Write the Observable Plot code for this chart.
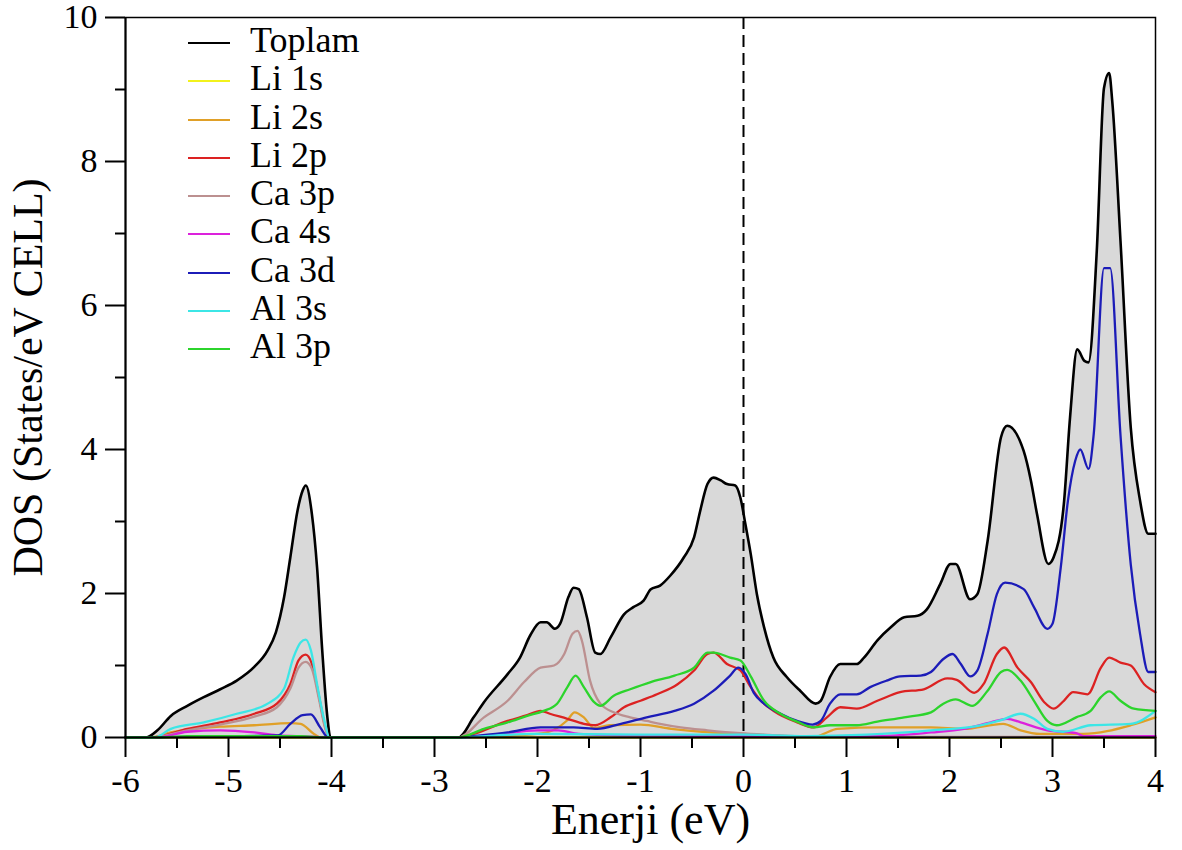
<!DOCTYPE html>
<html>
<head>
<meta charset="utf-8">
<script src="https://cdn.jsdelivr.net/npm/d3@7"></script>
<script src="https://cdn.jsdelivr.net/npm/@observablehq/plot@0.6"></script>
<style>
  body { margin: 0; background: #fff; }
  #chart { position: relative; width: 1182px; height: 850px; }
  #legend { position: absolute; left: 188px; top: 21px; font-family: "Liberation Serif", "DejaVu Serif", serif; font-size: 36px; color: #000; }
  #legend .row { display: flex; align-items: flex-start; height: 38.3px; }
  #legend svg { width: 42px; height: 38.3px; margin-right: 20px; flex: none; }
  #legend span { line-height: 38.3px; white-space: nowrap; }
</style>
</head>
<body>
<div id="chart"><div id="legend"></div></div>
<script>
// Density of states, total and orbital-projected, energy in eV
const toplam = [[-6,0],[-5.80,0],[-5.69,0.10],[-5.56,0.30],[-5.40,0.44],[-5.24,0.56],[-5.08,0.67],[-4.92,0.79],[-4.75,0.98],[-4.62,1.21],[-4.54,1.46],[-4.46,1.95],[-4.40,2.50],[-4.33,3.15],[-4.28,3.43],[-4.25,3.50],[-4.19,3.10],[-4.14,2.36],[-4.09,1.21],[-4.04,0.28],[-4.01,0],
  [-2.77,0],[-2.62,0.28],[-2.52,0.49],[-2.29,0.88],[-2.17,1.11],[-2.07,1.42],[-1.97,1.60],[-1.91,1.60],[-1.83,1.51],[-1.78,1.58],[-1.70,1.95],[-1.65,2.08],[-1.60,2.06],[-1.52,1.67],[-1.44,1.18],[-1.39,1.16],[-1.29,1.39],[-1.16,1.71],[-1.07,1.81],[-0.97,1.90],[-0.90,2.06],[-0.81,2.11],[-0.71,2.25],[-0.58,2.50],[-0.48,2.78],[-0.42,3.15],[-0.35,3.52],[-0.29,3.61],[-0.22,3.57],[-0.16,3.52],[-0.08,3.50],[-0.03,3.33],[0.02,2.95],[0.07,2.55],[0.13,1.99],[0.20,1.53],[0.29,1.11],[0.42,0.84],[0.55,0.65],[0.70,0.47],[0.75,0.51],[0.84,0.84],[0.94,1.02],[1.10,1.02],[1.17,1.11],[1.30,1.35],[1.43,1.53],[1.56,1.67],[1.69,1.69],[1.78,1.78],[1.91,2.13],[2.01,2.41],[2.06,2.41],[2.20,1.92],[2.27,1.99],[2.37,2.73],[2.50,4.17],[2.56,4.33],[2.72,3.98],[2.79,3.57],[2.85,3.10],[2.96,2.41],[3.01,2.50],[3.11,3.24],[3.17,4.44],[3.24,5.39],[3.31,5.23],[3.35,5.21],[3.43,6.76],[3.50,9.02],[3.55,9.23],[3.58,8.84],[3.66,6.90],[3.76,4.30],[3.85,3.29],[3.93,2.83],[4.0,2.83]];

const li1s = [[-6,0],[4,0]];

const li2s = [[-6,0],[-5.75,0],[-5.56,0.07],[-5.08,0.15],[-4.75,0.17],[-4.40,0.20],[-4.30,0.19],[-4.17,0.05],[-4.10,0],[-2.77,0],[-2.0,0.05],[-1.85,0.10],[-1.71,0.24],[-1.64,0.35],[-1.55,0.28],[-1.45,0.13],[-1.30,0.17],[-1.0,0.18],[-0.7,0.12],[-0.4,0.08],[0,0.05],[0.4,0.02],[0.70,0.01],[0.78,0.05],[0.91,0.12],[1.33,0.14],[1.82,0.14],[2.14,0.12],[2.52,0.19],[2.69,0.10],[2.88,0.05],[3.3,0.05],[3.76,0.17],[4.0,0.28]];

const li2p = [[-6,0],[-5.75,0],[-5.40,0.12],[-5.08,0.21],[-4.75,0.33],[-4.53,0.47],[-4.40,0.74],[-4.32,1.07],[-4.25,1.15],[-4.19,1.02],[-4.12,0.56],[-4.06,0.14],[-4.02,0],[-2.77,0],[-2.62,0.05],[-2.29,0.23],[-2.10,0.31],[-1.97,0.37],[-1.88,0.33],[-1.71,0.26],[-1.55,0.19],[-1.44,0.17],[-1.29,0.28],[-1.16,0.42],[-1.0,0.51],[-0.84,0.60],[-0.64,0.74],[-0.48,0.93],[-0.35,1.16],[-0.29,1.18],[-0.16,1.02],[-0.03,0.93],[0.07,0.70],[0.17,0.51],[0.29,0.37],[0.52,0.21],[0.68,0.14],[0.81,0.28],[0.94,0.42],[1.10,0.40],[1.30,0.51],[1.52,0.63],[1.75,0.67],[1.98,0.82],[2.07,0.80],[2.24,0.62],[2.33,0.74],[2.46,1.16],[2.53,1.25],[2.66,0.97],[2.79,0.77],[2.92,0.49],[3.01,0.40],[3.11,0.51],[3.20,0.63],[3.34,0.60],[3.47,0.97],[3.55,1.11],[3.66,1.04],[3.76,1.0],[3.89,0.74],[4.0,0.63]];

const ca3p = [[-6,0],[-5.75,0],[-5.40,0.10],[-5.08,0.18],[-4.75,0.29],[-4.53,0.42],[-4.40,0.68],[-4.32,0.97],[-4.25,1.05],[-4.19,0.95],[-4.12,0.52],[-4.06,0.12],[-4.02,0],[-2.77,0],[-2.52,0.28],[-2.29,0.51],[-2.13,0.77],[-1.97,0.97],[-1.84,1.0],[-1.74,1.16],[-1.66,1.44],[-1.61,1.48],[-1.57,1.35],[-1.49,0.79],[-1.39,0.47],[-1.26,0.35],[-1.10,0.28],[-0.94,0.23],[-0.81,0.19],[-0.61,0.14],[-0.35,0.10],[-0.03,0.06],[0.2,0.04],[0.5,0.02],[0.8,0.01],[4,0.01]];

const ca4s = [[-6,0],[-5.7,0],[-5.40,0.08],[-5.08,0.10],[-4.75,0.07],[-4.53,0.03],[-4.3,0.02],[-4.05,0],[-2.77,0],[-2.4,0.04],[-2.0,0.10],[-1.8,0.10],[-1.6,0.05],[-1.2,0.03],[0,0.02],[1.3,0.02],[1.82,0.07],[2.14,0.12],[2.40,0.21],[2.56,0.26],[2.69,0.21],[2.95,0.10],[3.23,0.06],[3.3,0.02],[4.0,0.02]];

const ca3d = [[-6,0],[-4.52,0.03],[-4.40,0.19],[-4.28,0.31],[-4.20,0.32],[-4.11,0.14],[-4.03,0],[-2.77,0],[-2.62,0.02],[-2.29,0.07],[-1.97,0.14],[-1.65,0.14],[-1.42,0.12],[-1.19,0.19],[-0.94,0.28],[-0.67,0.37],[-0.48,0.47],[-0.29,0.65],[-0.13,0.86],[-0.05,0.97],[0.02,0.88],[0.10,0.62],[0.20,0.47],[0.36,0.33],[0.52,0.23],[0.67,0.18],[0.75,0.23],[0.84,0.47],[0.94,0.60],[1.10,0.60],[1.23,0.70],[1.39,0.79],[1.52,0.85],[1.72,0.86],[1.82,0.91],[1.94,1.09],[2.03,1.16],[2.11,1.02],[2.20,0.85],[2.27,0.93],[2.37,1.44],[2.46,1.99],[2.54,2.15],[2.72,2.06],[2.82,1.81],[2.95,1.51],[3.0,1.58],[3.08,2.36],[3.15,3.29],[3.22,3.84],[3.27,4.00],[3.35,3.73],[3.40,4.21],[3.50,6.52],[3.56,6.52],[3.66,4.20],[3.76,2.40],[3.85,1.44],[3.93,0.91],[4.0,0.91]];

const al3s = [[-6,0],[-5.72,0],[-5.56,0.12],[-5.24,0.21],[-4.92,0.33],[-4.62,0.47],[-4.46,0.68],[-4.37,1.11],[-4.30,1.32],[-4.25,1.36],[-4.20,1.21],[-4.14,0.74],[-4.07,0.24],[-4.02,0],[-2.77,0],[-2.4,0.03],[-2.0,0.05],[-1.0,0.04],[0,0.04],[0.6,0.02],[1.2,0.04],[1.82,0.10],[2.3,0.17],[2.50,0.24],[2.69,0.33],[2.82,0.26],[2.95,0.12],[3.10,0.08],[3.37,0.17],[3.76,0.19],[4.0,0.37]];

const al3p = [[-6,0],[-5.7,0],[-5.4,0.02],[-4.5,0.02],[-4.3,0.02],[-4.05,0],[-2.77,0],[-2.52,0.12],[-2.29,0.21],[-2.10,0.30],[-1.94,0.37],[-1.81,0.47],[-1.71,0.70],[-1.63,0.86],[-1.55,0.70],[-1.45,0.49],[-1.39,0.44],[-1.26,0.58],[-1.10,0.67],[-0.90,0.77],[-0.67,0.86],[-0.48,0.97],[-0.35,1.18],[-0.29,1.18],[-0.13,1.11],[-0.03,1.07],[0.07,0.85],[0.20,0.51],[0.36,0.33],[0.52,0.22],[0.68,0.14],[0.84,0.17],[1.10,0.17],[1.30,0.22],[1.56,0.28],[1.82,0.35],[1.94,0.47],[2.06,0.53],[2.22,0.44],[2.37,0.65],[2.50,0.91],[2.56,0.94],[2.69,0.79],[2.82,0.51],[2.95,0.23],[3.04,0.17],[3.23,0.28],[3.37,0.37],[3.47,0.56],[3.55,0.64],[3.66,0.51],[3.79,0.40],[4.0,0.37]];

// Series names and colours, in drawing / legend order
const seriesNames = ["Toplam", "Li 1s", "Li 2s", "Li 2p", "Ca 3p", "Ca 4s", "Ca 3d", "Al 3s", "Al 3p"];
const seriesData = [toplam, li1s, li2s, li2p, ca3p, ca4s, ca3d, al3s, al3p];
const seriesColors = ["#000000", "#f2f21c", "#e0a028", "#dc2222", "#bc9090", "#dc22dc", "#1c1cb8", "#3ce6e6", "#2cd42c"];

const majorX = d3.range(-6, 5, 1);
const minorX = d3.range(-5.5, 4, 1);
const majorY = [0, 2, 4, 6, 8, 10];
const minorY = [1, 3, 5, 7, 9];

const xTitle = "Enerji (eV)";
const yTitle = "DOS (States/eV CELL)";

const rows = seriesNames.flatMap((name, i) => seriesData[i].map(([e, d]) => ({name, e, d})));

const lineMarks = seriesNames.map((name, i) =>
  Plot.line(rows.filter(r => r.name === name), {
    x: "e", y: "d",
    curve: "monotone-x",
    stroke: seriesColors[i],
    strokeWidth: i === 0 ? 2.6 : 2.3,
    strokeLinejoin: "round"
  })
);

const chart = Plot.plot({
  width: 1182,
  height: 850,
  marginLeft: 125,
  marginRight: 27,
  marginTop: 17,
  marginBottom: 113,
  style: {fontFamily: "'Liberation Serif', 'DejaVu Serif', serif", background: "#fff", color: "#000"},
  x: {domain: [-6, 4]},
  y: {domain: [0, 10]},
  marks: [
    Plot.areaY(rows.filter(r => r.name === "Toplam"), {x: "e", y: "d", curve: "monotone-x", fill: "#d9d9d9"}),
    Plot.ruleX([0], {stroke: "#000", strokeWidth: 2, strokeDasharray: "12,6"}),
    ...lineMarks,
    Plot.frame({stroke: "#000", strokeWidth: 1.5}),
    Plot.ruleY([0], {stroke: "#000", strokeWidth: 2}),
    Plot.ruleX([-6], {stroke: "#000", strokeWidth: 2}),
    Plot.axisX({ticks: majorX, tickSize: 20, tickPadding: 10, tickFormat: d => String(d), fontSize: 34, strokeWidth: 2, label: null}),
    Plot.axisX({ticks: minorX, tickSize: 11, tickFormat: () => "", strokeWidth: 2, label: null}),
    Plot.axisY({ticks: majorY, tickSize: 20, tickPadding: 8, tickFormat: d => String(d), fontSize: 34, strokeWidth: 2, label: null}),
    Plot.axisY({ticks: minorY, tickSize: 10, tickFormat: () => "", strokeWidth: 2, label: null}),
    Plot.text([xTitle], {frameAnchor: "bottom", lineAnchor: "middle", textAnchor: "middle", dy: 82, dx: 10, fontSize: 44}),
    Plot.text([yTitle], {frameAnchor: "left", lineAnchor: "middle", textAnchor: "middle", rotate: -90, dx: -97, fontSize: 42})
  ]
});

const holder = document.getElementById("chart");
holder.insertBefore(chart, holder.firstChild);

// Legend: short line sample followed by the series name
const legend = d3.select("#legend");
seriesNames.forEach((name, i) => {
  const row = legend.append("div").attr("class", "row");
  const sw = row.append("svg");
  sw.append("line").attr("x1", 0).attr("x2", 42).attr("y1", 22).attr("y2", 22)
    .attr("stroke", seriesColors[i]).attr("stroke-width", 2.2);
  row.append("span").text(name);
});
</script>
</body>
</html>
